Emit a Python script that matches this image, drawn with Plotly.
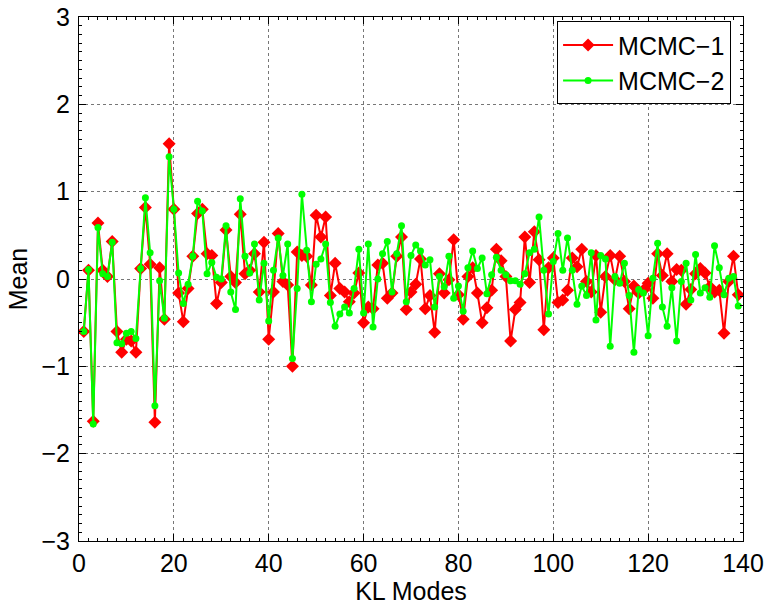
import plotly.graph_objects as go

x_modes = list(range(1, 140))

mcmc1 = [
    -0.60, 0.10, -1.63, 0.64, 0.10, 0.03, 0.43, -0.60, -0.84, -0.69,
    -0.71, -0.84, 0.12, 0.82, 0.17, -1.64, 0.13, -0.46, 1.55, 0.80,
    -0.16, -0.49, -0.11, 0.26, 0.75, 0.80, 0.29, 0.27, -0.28, -0.04,
    0.56, 0.03, -0.04, 0.74, 0.06, 0.10, 0.29, -0.15, 0.42, -0.69,
    -0.15, 0.52, -0.03, -0.07, -1.00, 0.31, 0.27, 0.26, -0.07, 0.73,
    0.48, 0.71, -0.19, 0.18, -0.11, -0.15, -0.26, -0.16, 0.07, -0.50,
    -0.32, -0.34, 0.16, 0.18, -0.22, -0.16, 0.26, 0.48, -0.35, -0.15,
    -0.06, 0.23, -0.34, -0.19, -0.61, 0.06, -0.16, -0.01, 0.45, -0.18,
    -0.46, 0.03, 0.13, -0.16, -0.50, -0.33, -0.13, 0.34, 0.21, 0.03,
    -0.71, -0.35, -0.27, 0.48, -0.04, 0.54, 0.22, -0.58, 0.13, 0.24,
    -0.27, -0.24, -0.13, 0.24, 0.14, 0.34, -0.03, -0.15, 0.27, -0.38,
    0.03, 0.27, -0.01, 0.26, -0.03, -0.34, -0.08, -0.16, -0.13, -0.05,
    -0.22, 0.29, 0.04, 0.29, -0.03, 0.11, 0.10, -0.29, -0.12, 0.06,
    0.12, 0.07, -0.09, -0.15, -0.13, -0.62, -0.03, 0.26, -0.18,
]

mcmc2 = [
    -0.60, 0.11, -1.66, 0.59, 0.06, 0.03, 0.42, -0.73, -0.74, -0.62,
    -0.60, -0.68, 0.12, 0.93, 0.30, -1.45, -0.02, -0.45, 1.40, 0.80,
    0.07, -0.28, -0.06, 0.26, 0.89, 0.78, 0.06, 0.19, 0.02, 0.00,
    0.61, -0.15, -0.35, 0.92, 0.26, 0.07, 0.40, -0.24, 0.18, -0.48,
    0.10, 0.47, 0.04, 0.40, -0.91, -0.11, 0.97, 0.33, -0.26, 0.17,
    0.23, 0.40, -0.27, -0.54, -0.40, -0.32, -0.39, -0.11, 0.34, -0.39,
    0.40, -0.55, 0.00, 0.29, 0.43, -0.15, 0.29, 0.61, -0.26, 0.27,
    0.39, 0.32, 0.16, 0.22, -0.32, 0.03, -0.09, 0.26, -0.22, -0.08,
    -0.37, 0.13, 0.32, 0.12, 0.24, -0.17, 0.05, 0.25, 0.10, 0.05,
    -0.02, -0.02, -0.06, 0.06, 0.30, 0.34, 0.71, 0.10, -0.40, 0.20,
    0.52, 0.10, 0.47, 0.10, -0.29, -0.08, -0.19, 0.30, -0.47, 0.27,
    0.23, -0.77, 0.03, -0.05, 0.18, -0.19, -0.84, -0.12, -0.16, -0.65,
    0.01, 0.41, -0.32, -0.54, -0.10, -0.71, -0.03, 0.18, -0.24, 0.28,
    -0.16, -0.10, -0.21, 0.38, 0.13, -0.18, 0.01, 0.03, -0.31,
]

x_ticks = [0, 20, 40, 60, 80, 100, 120, 140]
y_ticks = [-3, -2, -1, 0, 1, 2, 3]
y_tick_text = ["\u22123", "\u22122", "\u22121", "0", "1", "2", "3"]

FONT = "Liberation Sans, Arial, Helvetica, sans-serif"

fig = go.Figure()
fig.add_trace(go.Scatter(
    x=x_modes, y=mcmc1, mode="lines+markers", name="MCMC\u22121",
    line=dict(color="#ff0000", width=2),
    marker=dict(symbol="diamond", size=10, color="#ff0000"),
))
fig.add_trace(go.Scatter(
    x=x_modes, y=mcmc2, mode="lines+markers", name="MCMC\u22122",
    line=dict(color="#00ff00", width=2),
    marker=dict(symbol="circle", size=7, color="#00ff00"),
))

axis_common = dict(
    showline=True, linecolor="black", linewidth=1, mirror="allticks",
    ticks="inside", ticklen=7, tickcolor="black", tickwidth=1,
    showgrid=True, gridcolor="#777777", griddash="dot", gridwidth=1,
    zeroline=False, automargin=False,
    tickfont=dict(family=FONT, size=25, color="black"),
)

fig.update_layout(
    width=769, height=606,
    margin=dict(l=78.5, r=25.5, t=17, b=65),
    paper_bgcolor="white", plot_bgcolor="white",
    font=dict(family=FONT, color="black"),
    showlegend=True,
    legend=dict(
        x=0.72, y=0.992, xanchor="left", yanchor="top",
        bgcolor="white", bordercolor="black", borderwidth=1,
        font=dict(family=FONT, size=25, color="black"),
        tracegroupgap=0, itemsizing="trace", itemwidth=50,
    ),
    xaxis=dict(
        range=[0, 140], tickvals=x_ticks,
        minor=dict(ticks="inside", ticklen=3, dtick=2, tickcolor="black", showgrid=False),
        title=dict(text="KL Modes", font=dict(family=FONT, size=25, color="black"), standoff=0),
        ticklabelstandoff=0,
        **axis_common,
    ),
    yaxis=dict(
        range=[-3, 3], tickvals=y_ticks, ticktext=y_tick_text,
        minor=dict(ticks="inside", ticklen=3, dtick=0.1, tickcolor="black", showgrid=False),
        title=dict(text="Mean", font=dict(family=FONT, size=25, color="black"), standoff=6),
        ticklabelstandoff=3,
        **axis_common,
    ),
)

fig.write_html(
    "out.html",
    config={"displayModeBar": False},
    post_script="document.body.style.margin='0';document.body.style.overflow='hidden';",
)
